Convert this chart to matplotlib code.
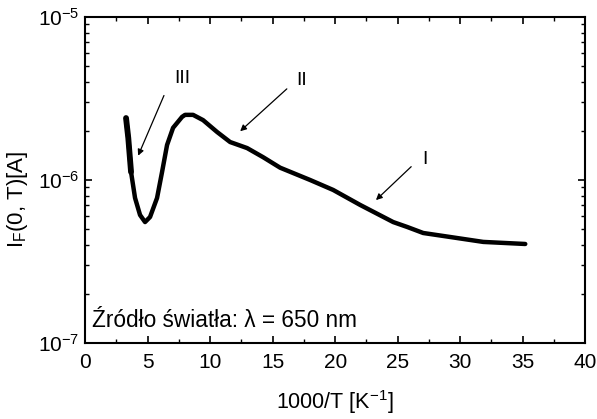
import numpy as np
import matplotlib
matplotlib.use("Agg")
import matplotlib.pyplot as plt
import matplotlib.ticker as mticker

plt.rcParams['font.family'] = ['Liberation Sans', 'DejaVu Sans']
plt.rcParams['mathtext.fontset'] = 'custom'
plt.rcParams['mathtext.rm'] = 'Liberation Sans'
plt.rcParams['mathtext.default'] = 'regular'

# curve
inv_t = [3.28, 3.46, 3.68, 4.0, 4.4, 4.8, 5.2, 5.76, 6.16, 6.56, 7.04, 7.76,
         8.0, 8.64, 9.44, 10.56, 11.6, 12.96, 14.24, 15.6, 18.0, 19.84, 22.0,
         24.64, 25.76, 27.04, 29.2, 31.84, 35.2]
current = [2.40e-6, 1.81e-6, 1.12e-6, 7.76e-7, 6.10e-7, 5.52e-7, 5.93e-7,
           7.76e-7, 1.12e-6, 1.64e-6, 2.09e-6, 2.44e-6, 2.51e-6, 2.51e-6,
           2.33e-6, 1.97e-6, 1.71e-6, 1.57e-6, 1.38e-6, 1.19e-6, 1.0e-6,
           8.69e-7, 7.03e-7, 5.52e-7, 5.15e-7, 4.73e-7, 4.47e-7, 4.17e-7,
           4.05e-7]

# region labels: text position, arrow tail, arrow head
labels = ['III', 'II', 'I']
label_xy = [(7.8, 4.2e-6), (17.3, 4.1e-6), (27.2, 1.33e-6)]
tail_xy = [(6.4, 3.42e-6), (16.3, 3.72e-6), (26.24, 1.24e-6)]
head_xy = [(4.16, 1.36e-6), (12.24, 1.94e-6), (23.1, 7.33e-7)]

fig = plt.figure(figsize=(5.97, 4.19), dpi=100)
ax = fig.add_axes([0.1424, 0.1814, 0.838, 0.778])

ax.semilogy(inv_t, current, 'k-', lw=3.2, solid_joinstyle='round',
            solid_capstyle='round')
# thicker start of the trace
ax.semilogy(inv_t[:3], current[:3], 'k-', lw=4.2, solid_capstyle='round')

for lab, txy, a, h in zip(labels, label_xy, tail_xy, head_xy):
    ax.text(txy[0], txy[1], lab, fontsize=14, ha='center', va='center')
    ax.annotate('', xy=h, xytext=a,
                arrowprops=dict(arrowstyle='-|>', color='k', lw=0.9,
                                mutation_scale=9))

ax.text(0.56, 1.38e-7, 'Źródło światła: λ = 650 nm', fontsize=16.3,
        ha='left', va='center')

ax.set_xlim(0, 40)
ax.set_ylim(1e-7, 1e-5)
ax.xaxis.set_major_locator(mticker.MultipleLocator(5))
ax.xaxis.set_minor_locator(mticker.MultipleLocator(2.5))
ax.yaxis.set_major_locator(mticker.LogLocator(base=10, numticks=10))
ax.yaxis.set_minor_locator(mticker.LogLocator(base=10, subs=np.arange(2, 10), numticks=20))
ax.yaxis.set_minor_formatter(mticker.NullFormatter())

ax.tick_params(which='both', direction='in', top=True, right=True, labelsize=15)
ax.tick_params(which='major', length=5, width=1.2)
ax.tick_params(which='minor', length=3, width=1.0)
ax.tick_params(axis='x', pad=7)
ax.tick_params(axis='y', pad=4)
for s in ax.spines.values():
    s.set_linewidth(1.5)

ax.set_xlabel('1000/T [K$^{-1}$]', fontsize=15.5)
ax.set_ylabel('I$_F$(0, T)[A]', fontsize=16)
ax.xaxis.set_label_coords(0.5, -0.138)
ax.yaxis.set_label_coords(-0.11, 0.44)

fig.savefig('out.png', dpi=100)
